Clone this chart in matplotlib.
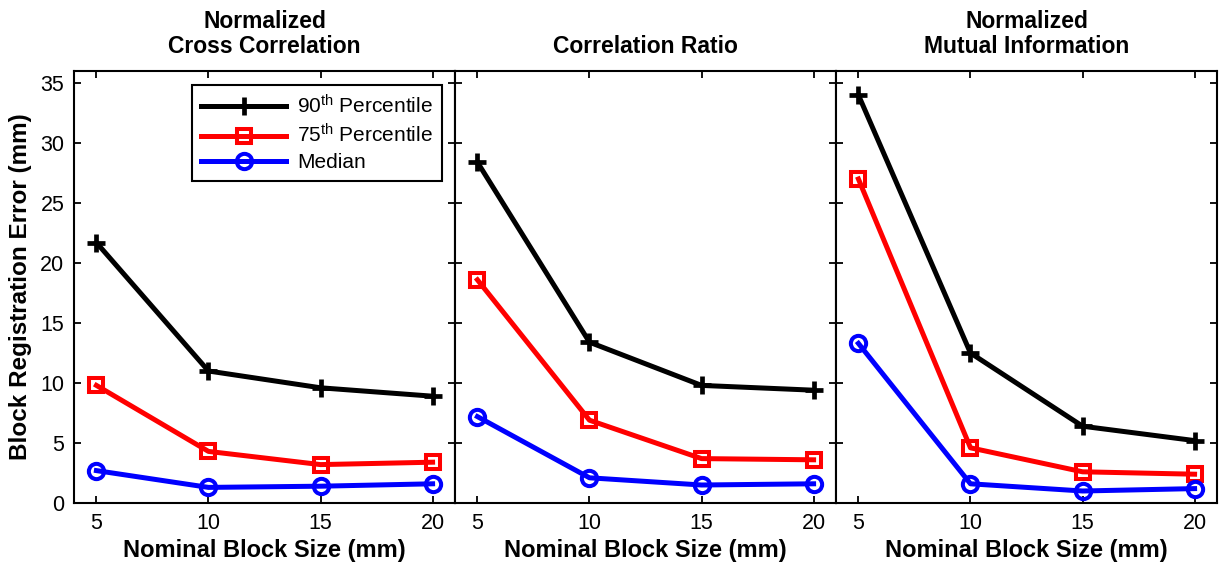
import matplotlib
matplotlib.use("Agg")
import matplotlib.pyplot as plt

plt.rcParams['font.family'] = ['Liberation Sans', 'DejaVu Sans']
plt.rcParams['mathtext.fontset'] = 'custom'
plt.rcParams['mathtext.rm'] = 'Liberation Sans'
plt.rcParams['mathtext.it'] = 'Liberation Sans:italic'
plt.rcParams['mathtext.bf'] = 'Liberation Sans:bold'

block_sizes = [5, 10, 15, 20]
panel_titles = ["Normalized\nCross Correlation", "Correlation Ratio",
                "Normalized\nMutual Information"]

ncc_p90 = [21.7, 11.0, 9.6, 8.9]
ncc_p75 = [9.8, 4.3, 3.2, 3.4]
ncc_med = [2.7, 1.3, 1.4, 1.6]

cr_p90 = [28.4, 13.4, 9.8, 9.4]
cr_p75 = [18.6, 6.9, 3.7, 3.6]
cr_med = [7.2, 2.1, 1.5, 1.6]

nmi_p90 = [34.0, 12.5, 6.4, 5.2]
nmi_p75 = [27.0, 4.6, 2.6, 2.4]
nmi_med = [13.3, 1.6, 1.0, 1.2]

series_labels = ["90$^{\\mathrm{th}}$ Percentile", "75$^{\\mathrm{th}}$ Percentile", "Median"]
series_colors = ["#000000", "#ff0000", "#0000ff"]
series_markers = ["+", "s", "o"]
y_ticks = [0, 5, 10, 15, 20, 25, 30, 35]

panels = [
    (ncc_p90, ncc_p75, ncc_med),
    (cr_p90, cr_p75, cr_med),
    (nmi_p90, nmi_p75, nmi_med),
]

W, H = 1225, 569
fig = plt.figure(figsize=(W / 100, H / 100), dpi=100)

left_px = [74, 455, 836]
ax_w = 381
top_px, bot_px = 71, 503

axes = []
for i, (data, title) in enumerate(zip(panels, panel_titles)):
    ax = fig.add_axes([left_px[i] / W, 1 - bot_px / H, ax_w / W, (bot_px - top_px) / H])
    axes.append(ax)
    handles = []
    for vals, lab, col, mk in zip(data, series_labels, series_colors, series_markers):
        if mk == "+":
            ms, mew = 13, 3.4
        elif mk == "s":
            ms, mew = 9.5, 2.9
        else:
            ms, mew = 11, 2.9
        h, = ax.plot(block_sizes, vals, color=col, lw=3.6, marker=mk,
                     markersize=ms, markeredgewidth=mew,
                     markerfacecolor='none', label=lab, zorder=3)
        handles.append(h)
    ax.set_xlim(4, 21)
    ax.set_ylim(0, 36)
    ax.set_xticks(block_sizes)
    ax.set_yticks(y_ticks)
    ax.tick_params(direction='in', top=True, right=True, length=5, width=1.3,
                   labelsize=15.5, pad=7)
    for sp in ax.spines.values():
        sp.set_linewidth(1.5)
    if i > 0:
        ax.set_yticklabels([])
    else:
        ax.set_ylabel("Block Registration Error (mm)", fontsize=17.5,
                      fontweight='bold', labelpad=6)
    ax.set_xlabel("Nominal Block Size (mm)", fontsize=17, fontweight='bold',
                  labelpad=4)
    ax.set_title(title, fontsize=16.5, fontweight='bold', pad=13, linespacing=1.1)
    if i == 0:
        leg = ax.legend(handles=handles, loc='upper right', fontsize=15,
                        handlelength=4.1, handletextpad=0.5, labelspacing=0.3,
                        borderpad=0.45, borderaxespad=0, fancybox=False,
                        edgecolor='black', framealpha=1,
                        bbox_to_anchor=(0.966, 0.968))
        leg.get_frame().set_linewidth(1.5)

fig.savefig("out.png", dpi=100)
